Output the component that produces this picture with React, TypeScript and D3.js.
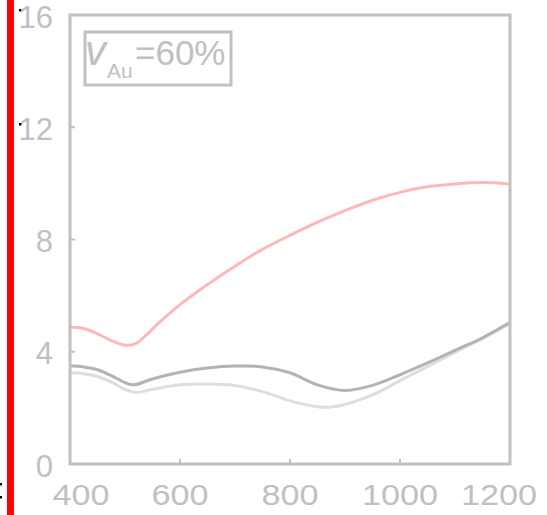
import React from "react";
import * as d3 from "d3";

// Wavelength (nm) sample points for each spectrum
const pinkWl = [400, 425, 450, 475, 500, 520, 540, 560, 600, 650, 700, 750, 800, 850, 900, 950, 1000, 1050, 1100, 1150, 1200];
const pinkVal = [4.87, 4.83, 4.64, 4.40, 4.23, 4.30, 4.62, 5.00, 5.68, 6.40, 7.05, 7.65, 8.15, 8.62, 9.03, 9.40, 9.68, 9.88, 9.98, 10.03, 9.98];

const darkWl = [400, 425, 450, 475, 500, 515, 550, 600, 650, 700, 750, 800, 850, 900, 950, 1000, 1050, 1100, 1150, 1200];
const darkVal = [3.50, 3.46, 3.36, 3.15, 2.90, 2.82, 3.03, 3.27, 3.42, 3.49, 3.46, 3.25, 2.82, 2.62, 2.80, 3.18, 3.60, 4.05, 4.50, 5.05];

const lightWl = [400, 425, 450, 475, 500, 520, 550, 600, 650, 700, 750, 800, 850, 875, 900, 950, 1000, 1050, 1100, 1150, 1200];
const lightVal = [3.25, 3.22, 3.12, 2.92, 2.66, 2.55, 2.66, 2.82, 2.85, 2.80, 2.58, 2.25, 2.04, 2.03, 2.12, 2.46, 2.97, 3.47, 3.98, 4.47, 5.00];

const xTicks = [400, 600, 800, 1000, 1200];
const yTicks = [0, 4, 8, 12, 16];

const AXIS = "#c0c0c0";

export default function App() {
  const W = 547;
  const H = 515;
  const left = 70, right = 510, top = 15, bottom = 464;

  const x = d3.scaleLinear().domain([400, 1200]).range([left, right]);
  const y = d3.scaleLinear().domain([0, 16]).range([bottom, top]);

  const mk = (wl: number[], v: number[]) =>
    d3
      .line<number>()
      .x((_, i) => x(wl[i]))
      .y((d) => y(d))
      .curve(d3.curveCatmullRom.alpha(0.5))(v) || "";

  const series = [
    { wl: lightWl, v: lightVal, color: "#dedede" },
    { wl: darkWl, v: darkVal, color: "#b3b3b3" },
    { wl: pinkWl, v: pinkVal, color: "#ffb8b8" },
  ];

  const font = "'Liberation Sans', Arial, Helvetica, sans-serif";

  return (
    <svg
      width={W}
      height={H}
      viewBox={`0 0 ${W} ${H}`}
      style={{ position: "absolute", left: 0, top: 0, display: "block", background: "#fff" }}
    >
      <defs>
        <clipPath id="plotClip">
          <rect x={left} y={top} width={right - left} height={bottom - top} />
        </clipPath>
      </defs>

      {/* edge of the neighbouring panel */}
      <rect x={7} y={0} width={7} height={H} fill="#ff0000" />
      <rect x={19} y={9} width={2.5} height={2.5} fill="#000" />
      <rect x={19} y={123} width={2.5} height={2.5} fill="#000" />
      <rect x={0} y={483} width={2} height={2.5} fill="#000" />
      <rect x={0} y={496} width={2} height={2.5} fill="#000" />

      <g clipPath="url(#plotClip)">
        {series.map((s, i) => (
          <path key={i} d={mk(s.wl, s.v)} fill="none" stroke={s.color} strokeWidth={3} strokeLinejoin="round" />
        ))}
      </g>

      {/* ticks (inside) */}
      {xTicks.map((t) => (
        <line key={"xt" + t} x1={x(t)} x2={x(t)} y1={bottom} y2={bottom - 5} stroke={AXIS} strokeWidth={2} />
      ))}
      {yTicks.map((t) => (
        <line key={"yt" + t} x1={left} x2={left + 5} y1={y(t)} y2={y(t)} stroke={AXIS} strokeWidth={2} />
      ))}

      {/* axes box */}
      <rect x={left} y={top} width={right - left} height={bottom - top} fill="none" stroke={AXIS} strokeWidth={3} />

      {/* tick labels */}
      {yTicks.map((t) => (
        <text
          key={"yl" + t}
          x={53}
          y={y(t) + 12.5}
          textAnchor="end"
          fontFamily={font}
          fontSize={31}
          fill={AXIS}
        >
          {t}
        </text>
      ))}
      {xTicks.map((t) => {
        const label = String(t);
        const len = label.length * 19;
        const cx = Math.min(Math.max(x(t), 81), 499);
        return (
          <text
            key={"xl" + t}
            x={cx - len / 2}
            y={bottom + 41}
            fontFamily={font}
            fontSize={29}
            fill={AXIS}
            textLength={len}
            lengthAdjust="spacingAndGlyphs"
          >
            {label}
          </text>
        );
      })}

      {/* legend */}
      <rect x={85} y={32} width={146} height={53} fill="#fff" stroke={AXIS} strokeWidth={3} />
      <text x={85} y={65} fontFamily={font} fontSize={42} fontStyle="italic" fill={AXIS}>
        v
      </text>
      <text x={107} y={78} fontFamily={font} fontSize={21} fill={AXIS}>
        Au
      </text>
      <text x={135} y={65} fontFamily={font} fontSize={35} fill={AXIS}>
        =60%
      </text>
    </svg>
  );
}
